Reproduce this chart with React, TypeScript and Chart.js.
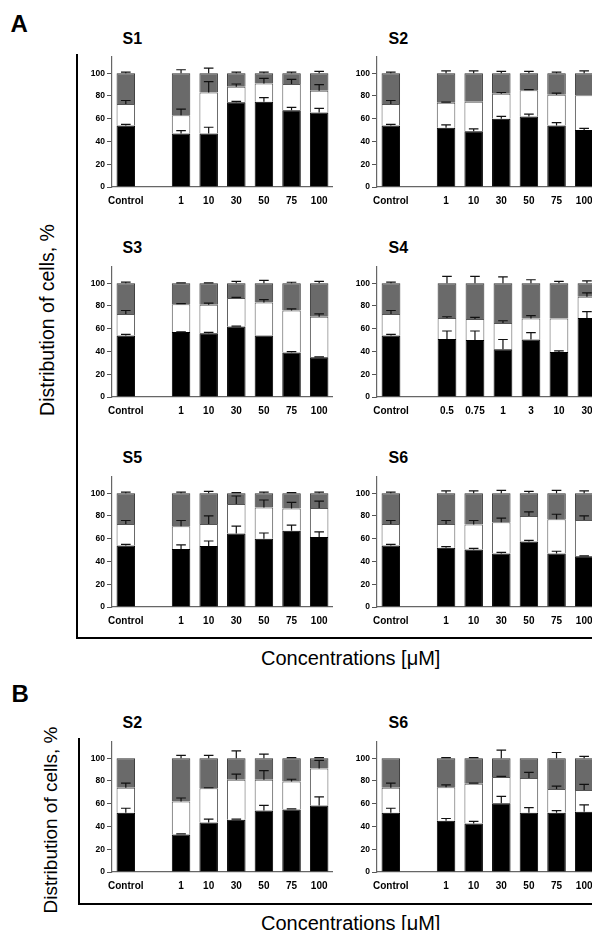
import React, { useEffect, useRef } from "react";
import { Chart, registerables } from "chart.js";

Chart.register(...registerables);
Chart.defaults.font.family = "'Liberation Sans', Arial, Helvetica, sans-serif";

// ---------- categories & ticks ----------
const CATS = ["Control", "", "1", "10", "30", "50", "75", "100"];
const CATS_S4 = ["Control", "", "0.5", "0.75", "1", "3", "10", "30"];
const Y_TICKS = [0, 20, 40, 60, 80, 100];

// ---------- A: S1 ----------
const a1Black = [54, null, 47, 47, 74.5, 75, 67.5, 65.5];
const a1White = [19, null, 16, 36, 13.5, 16, 23, 19];
const a1Gray = [27, null, 37, 17, 12, 9, 9.5, 15.5];
const a1BlackSd = [1, null, 2.5, 5.5, 0.8, 3.5, 2.5, 3.5];
const a1WhiteSd = [3, null, 5.5, 9.5, 2.5, 4.5, 4, 5.5];
const a1GraySd = [1, null, 3, 4.5, 1, 1, 1, 1.5];

// ---------- A: S2 ----------
const a2Black = [54, null, 52, 49, 60, 62, 54, 50];
const a2White = [19, null, 22, 26, 22, 23, 27, 30.5];
const a2Gray = [27, null, 26, 25, 18, 15, 19, 19.5];
const a2BlackSd = [1, null, 2.5, 2, 2, 2, 2.5, 1.5];
const a2WhiteSd = [3, null, 0.5, 0, 1, 0.5, 1.5, 0];
const a2GraySd = [1, null, 2, 2, 1.5, 1.5, 1, 2];

// ---------- A: S3 ----------
const a3Black = [54, null, 57, 56, 62, 54, 39, 35];
const a3White = [19, null, 24.5, 25, 25, 29, 37, 35.5];
const a3Gray = [27, null, 18.5, 19, 13, 17, 24, 29.5];
const a3BlackSd = [1, null, 0.3, 0.7, 0.3, 0, 0.8, 0.3];
const a3WhiteSd = [3, null, 0.5, 1.5, 0.5, 2.5, 1.5, 2.5];
const a3GraySd = [1, null, 0.3, 0.3, 1.5, 2.5, 0.8, 1.5];

// ---------- A: S4 ----------
const a4Black = [54, null, 51, 50, 42, 50.5, 39.5, 69.5];
const a4White = [19, null, 18.5, 18.5, 23, 18.5, 29.5, 18.5];
const a4Gray = [27, null, 30.5, 31.5, 35, 31, 31, 12];
const a4BlackSd = [1, null, 7, 8, 8.5, 6, 1, 5.5];
const a4WhiteSd = [3, null, 1, 1.5, 2, 2.5, 0, 3.5];
const a4GraySd = [1, null, 6, 6, 5.5, 3, 1.5, 2];

// ---------- A: S5 ----------
const a5Black = [54, null, 51, 53.5, 64.5, 60, 67, 61.5];
const a5White = [19, null, 20, 19.5, 26, 27.5, 19.5, 25.5];
const a5Gray = [27, null, 29, 27, 9.5, 12.5, 13.5, 13];
const a5BlackSd = [1, null, 3.5, 4.5, 6.5, 5, 5, 4.5];
const a5WhiteSd = [3, null, 5, 7, 7, 6.5, 5.5, 6];
const a5GraySd = [1, null, 1, 1.5, 0.5, 1, 0.5, 1];

// ---------- A: S6 ----------
const a6Black = [54, null, 52, 50.5, 47, 57.5, 47, 44.5];
const a6White = [19, null, 21, 22, 27.5, 22.5, 30, 32];
const a6Gray = [27, null, 27, 27.5, 25.5, 20, 23, 23.5];
const a6BlackSd = [1, null, 1, 1, 1, 1, 2, 0.5];
const a6WhiteSd = [3, null, 3, 3.5, 3.5, 3.5, 4.5, 3.5];
const a6GraySd = [1, null, 2, 2, 2.5, 1.5, 2.5, 2];

// ---------- B: S2 ----------
const b2Black = [52, null, 33, 43.5, 46, 54, 55, 58.5];
const b2White = [22, null, 29, 30, 35, 27, 24.5, 32.5];
const b2Gray = [26, null, 38, 26.5, 19, 19, 20.5, 9];
const b2BlackSd = [4, null, 0.5, 3, 0.5, 4.5, 0.5, 7.5];
const b2WhiteSd = [4, null, 3, 0.5, 5, 8, 2, 7];
const b2GraySd = [0, null, 2.5, 2.5, 6.5, 3.5, 0.5, 0.5];

// ---------- B: S6 ----------
const b6Black = [52, null, 45, 42.5, 60.5, 52, 52, 53];
const b6White = [22, null, 29.5, 35, 23, 30.5, 21, 19];
const b6Gray = [26, null, 25.5, 22.5, 16.5, 17.5, 27, 28];
const b6BlackSd = [4, null, 2, 2, 6, 4.5, 2, 6];
const b6WhiteSd = [4, null, 2, 0.5, 0.5, 5, 2.5, 5];
const b6GraySd = [0, null, 0.5, 0.5, 7, 0, 5, 1.5];

// ---------- layout ----------
const FONT = "'Liberation Sans', Arial, Helvetica, sans-serif";
const Y_AXIS_W = 23;
const X_AXIS_H = 24;
const PAD_TOP = 6;
const CANVAS_W = 247;
const CANVAS_H = 162;
const COL_LEFT = [89.25, 353.5];
const ROW_ZERO = [187.3, 396.7, 606.7, 871.7];
const TITLE_LEFT = [122.5, 388.5];

type Num = number | null;

function makeErrorPlugin(sds: Num[][]) {
  return {
    id: "errorBars",
    afterDatasetsDraw(chart: any) {
      const ctx = chart.ctx;
      const yScale = chart.scales.y;
      ctx.save();
      ctx.strokeStyle = "#111";
      ctx.lineWidth = 1.2;
      const n = chart.data.labels.length;
      for (let j = 0; j < n; j++) {
        let cum = 0;
        for (let d = 0; d < chart.data.datasets.length; d++) {
          const v = chart.data.datasets[d].data[j];
          if (v === null || v === undefined) break;
          cum += v;
          const sd = sds[d][j];
          if (!sd) continue;
          const bar = chart.getDatasetMeta(d).data[j];
          const x = bar.x;
          const y0 = yScale.getPixelForValue(cum);
          const y1 = yScale.getPixelForValue(cum + sd);
          ctx.beginPath();
          ctx.moveTo(x, y0);
          ctx.lineTo(x, y1);
          ctx.moveTo(x - 4.8, y1);
          ctx.lineTo(x + 4.8, y1);
          ctx.stroke();
        }
      }
      ctx.restore();
    },
  };
}

function Panel(props: {
  labels: string[];
  black: Num[]; white: Num[]; gray: Num[];
  blackSd: Num[]; whiteSd: Num[]; graySd: Num[];
  left: number; top: number;
}) {
  const ref = useRef<HTMLCanvasElement | null>(null);
  useEffect(() => {
    if (!ref.current) return;
    const common = { barPercentage: 0.67, categoryPercentage: 1, borderWidth: 1 };
    const chart = new Chart(ref.current, {
      type: "bar",
      data: {
        labels: props.labels,
        datasets: [
          { ...common, data: props.black as any, backgroundColor: "#000", borderColor: "#000" },
          { ...common, data: props.white as any, backgroundColor: "#fff", borderColor: "#555" },
          { ...common, data: props.gray as any, backgroundColor: "#6a6a6a", borderColor: "#333" },
        ],
      },
      options: {
        responsive: false,
        animation: false,
        layout: { padding: { top: PAD_TOP, left: 0, right: 0, bottom: 0 } },
        plugins: {
          legend: { display: false },
          tooltip: { enabled: false },
          title: { display: false },
        },
        scales: {
          x: {
            stacked: true,
            offset: true,
            grid: { display: false, drawTicks: false },
            border: { display: true, color: "#666", width: 1.2 },
            ticks: {
              font: { size: 10, weight: "bold", family: FONT },
              color: "#000",
              padding: 8.5,
              maxRotation: 0,
              minRotation: 0,
              autoSkip: false,
            },
            afterFit: (s: any) => { s.height = X_AXIS_H; },
          },
          y: {
            stacked: true,
            min: 0,
            max: 115,
            grid: { display: true, drawOnChartArea: false, drawTicks: true, tickLength: 5, color: "#555", lineWidth: 1 },
            border: { display: true, color: "#666", width: 1.2 },
            ticks: {
              font: { size: 8.5, weight: "bold", family: FONT },
              color: "#000",
              padding: 2,
            },
            afterBuildTicks: (s: any) => { s.ticks = Y_TICKS.map((v) => ({ value: v })); },
            afterFit: (s: any) => { s.width = Y_AXIS_W; },
          },
        },
      } as any,
      plugins: [makeErrorPlugin([props.blackSd, props.whiteSd, props.graySd])],
    });
    return () => chart.destroy();
  }, []);
  return (
    <canvas
      ref={ref}
      width={CANVAS_W}
      height={CANVAS_H}
      style={{ position: "absolute", left: props.left, top: props.top, width: CANVAS_W, height: CANVAS_H }}
    />
  );
}

const txt = (extra: React.CSSProperties): React.CSSProperties => ({
  position: "absolute",
  fontFamily: FONT,
  color: "#000",
  whiteSpace: "nowrap",
  ...extra,
});

export default function App() {
  const canvasTop = (row: number) => ROW_ZERO[row] - (CANVAS_H - X_AXIS_H);
  const titleTop = (row: number) => ROW_ZERO[row] - 156.3;
  const panels = [
    { t: "S1", c: 0, r: 0, labels: CATS, d: [a1Black, a1White, a1Gray, a1BlackSd, a1WhiteSd, a1GraySd] },
    { t: "S2", c: 1, r: 0, labels: CATS, d: [a2Black, a2White, a2Gray, a2BlackSd, a2WhiteSd, a2GraySd] },
    { t: "S3", c: 0, r: 1, labels: CATS, d: [a3Black, a3White, a3Gray, a3BlackSd, a3WhiteSd, a3GraySd] },
    { t: "S4", c: 1, r: 1, labels: CATS_S4, d: [a4Black, a4White, a4Gray, a4BlackSd, a4WhiteSd, a4GraySd] },
    { t: "S5", c: 0, r: 2, labels: CATS, d: [a5Black, a5White, a5Gray, a5BlackSd, a5WhiteSd, a5GraySd] },
    { t: "S6", c: 1, r: 2, labels: CATS, d: [a6Black, a6White, a6Gray, a6BlackSd, a6WhiteSd, a6GraySd] },
    { t: "S2", c: 0, r: 3, labels: CATS, d: [b2Black, b2White, b2Gray, b2BlackSd, b2WhiteSd, b2GraySd] },
    { t: "S6", c: 1, r: 3, labels: CATS, d: [b6Black, b6White, b6Gray, b6BlackSd, b6WhiteSd, b6GraySd] },
  ];
  return (
    <div style={{ position: "fixed", left: 0, top: 0, width: 592, height: 930, overflow: "hidden", background: "#fff" }}>
      <div style={txt({ left: 10.5, top: 12.3, fontSize: 24, lineHeight: "24px", fontWeight: "bold" })}>A</div>
      <div style={txt({ left: 11.5, top: 682.3, fontSize: 24, lineHeight: "24px", fontWeight: "bold" })}>B</div>

      {/* frames */}
      <div style={{ position: "absolute", left: 76, top: 54, width: 600, height: 582.8, borderLeft: "2.7px solid #000", borderBottom: "2.7px solid #000" }} />
      <div style={{ position: "absolute", left: 78, top: 738, width: 600, height: 164.7, borderLeft: "2.7px solid #000", borderBottom: "2.7px solid #000" }} />

      {panels.map((p, i) => (
        <React.Fragment key={i}>
          <div style={txt({ left: TITLE_LEFT[p.c], top: titleTop(p.r), fontSize: 16, lineHeight: "16px", fontWeight: "bold" })}>{p.t}</div>
          <Panel
            labels={p.labels}
            black={p.d[0]} white={p.d[1]} gray={p.d[2]}
            blackSd={p.d[3]} whiteSd={p.d[4]} graySd={p.d[5]}
            left={COL_LEFT[p.c]} top={canvasTop(p.r)}
          />
        </React.Fragment>
      ))}

      {/* axis titles */}
      <div style={txt({ left: 47, top: 320, fontSize: 19.5, lineHeight: "20px", transform: "translate(-50%, -50%) rotate(-90deg)" })}>Distribution of cells, %</div>
      <div style={txt({ left: 50, top: 819.5, fontSize: 19, lineHeight: "19px", transform: "translate(-50%, -50%) rotate(-90deg)" })}>Distribution of cells, %</div>
      <div style={txt({ left: 261, top: 647.7, fontSize: 20, lineHeight: "20px" })}>Concentrations [μM]</div>
      <div style={txt({ left: 261, top: 912.7, fontSize: 20, lineHeight: "20px" })}>Concentrations [μM]</div>
    </div>
  );
}
